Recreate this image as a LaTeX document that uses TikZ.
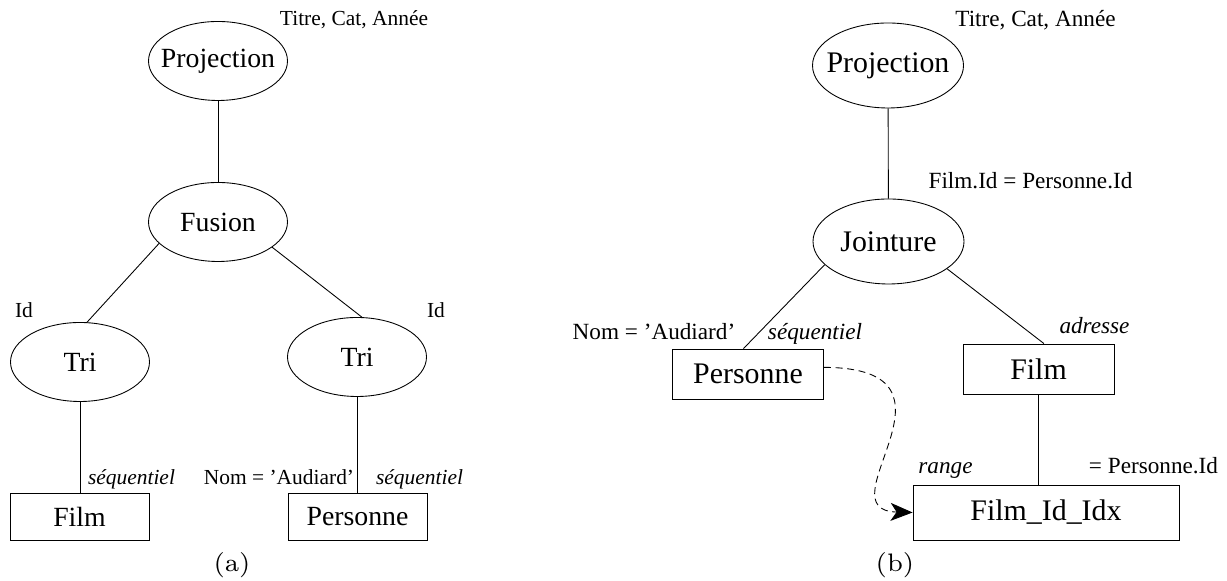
\documentclass[tikz,border=0pt]{standalone}
\usepackage{fontspec}
\newfontfamily\tms[Ligatures=TeX]{Liberation Serif}
\usetikzlibrary{shapes.geometric,arrows.meta}
\tikzset{
	opA/.style={ellipse, draw, inner sep=0pt, minimum width=1.39cm, minimum height=0.79cm, font=\tms\fontsize{7.9}{9}\selectfont},
	opB/.style={ellipse, draw, inner sep=0pt, minimum width=1.51cm, minimum height=0.85cm, font=\tms\fontsize{8.5}{10}\selectfont},
	relA/.style={rectangle, draw, inner sep=0pt, minimum width=1.39cm, minimum height=0.47cm, font=\tms\fontsize{7.9}{9}\selectfont},
	relB/.style={rectangle, draw, inner sep=0pt, minimum width=1.51cm, minimum height=0.50cm, font=\tms\fontsize{8.5}{10}\selectfont},
	noteA/.style={anchor=base, inner sep=0pt, font=\tms\fontsize{6.1}{7}\selectfont},
	noteB/.style={anchor=base, inner sep=0pt, font=\tms\fontsize{6.6}{8}\selectfont},
	subcap/.style={inner sep=0pt, font=\fontsize{7.2}{8}\selectfont}
}
\begin{document}
\begin{tikzpicture}[line width=0.25pt]
			%%%%% START %%%%%
			\useasboundingbox (0, 0) rectangle (12.27, 5.81);
			
			% (a)
			\node[opA] (projA) at (2.18, 5.20) {\makebox[0pt]{Projection}};
			\node[opA] (fusA) at (2.18, 3.59) {\makebox[0pt]{Fusion}};
			\node[opA] (triA1) at (0.80, 2.19) {\makebox[0pt]{Tri}};
			\node[opA] (triA2) at (3.57, 2.24) {\makebox[0pt]{Tri}};
			\node[relA] (filmA) at (0.795, 0.645) {Film};
			\node[relA] (persA) at (3.575, 0.645) {Personne};
			
			\draw (projA) -- (fusA);
			\draw (fusA.200) -- (triA1.80);
			\draw (fusA.335) -- (triA2.83);
			\draw (triA1.south) -- (triA1.south |- filmA.north);
			\draw (triA2.south) -- (triA2.south |- persA.north);
			
			\node[noteA] (attrA) at (3.54, 5.55) {Titre, Cat, Année};
			\node[noteA] (keyA1) at (0.24, 2.63) {Id};
			\node[noteA] (keyA2) at (4.36, 2.63) {Id};
			\node[noteA] (scanA1) at (1.315, 0.96) {\itshape séquentiel};
			\node[noteA] (selA) at (2.79, 0.96) {Nom = ’Audiard’};
			\node[noteA] (scanA2) at (4.195, 0.96) {\itshape séquentiel};
			\node[subcap] (capA) at (2.32, 0.16) {(a)};
			
			% (b)
			\node[opB] (projB) at (8.88, 5.155) {\makebox[0pt]{Projection}};
			\node[opB] (jointB) at (8.885, 3.395) {\makebox[0pt]{Jointure}};
			\node[relB] (persB) at (7.48, 2.07) {Personne};
			\node[relB] (filmB) at (10.385, 2.12) {Film};
			\node[relB, minimum width=2.66cm, minimum height=0.55cm] (idxB) at (10.46, 0.685) {Film\_Id\_Idx};
			
			\draw (projB) -- (jointB);
			\draw (jointB.200) -- (persB.100);
			\draw (jointB.335) -- (filmB.78);
			\draw (filmB.south) -- (filmB.south |- idxB.north);
			\draw[dash pattern=on 2pt off 1.3pt, -{Stealth[length=2.2mm, width=1.8mm, inset=0.6mm]}] (persB.5) .. controls (9.80, 2.13) and (8.20, 0.71) .. (idxB.west);
			
			\node[noteB] (attrB) at (10.355, 5.54) {Titre, Cat, Année};
			\node[noteB] (condB) at (10.305, 3.92) {Film.Id = Personne.Id};
			\node[noteB] (selB) at (6.54, 2.41) {Nom = ’Audiard’};
			\node[noteB] (scanB) at (8.15, 2.41) {\itshape séquentiel};
			\node[noteB] (addrB) at (10.945, 2.47) {\itshape adresse};
			\node[noteB] (rangeB) at (9.455, 1.07) {\itshape range};
			\node[noteB] (eqB) at (11.535, 1.07) {= Personne.Id};
			\node[subcap] (capB) at (8.95, 0.16) {(b)};
			
			%%%%% END %%%%%
		\end{tikzpicture}
\end{document}
